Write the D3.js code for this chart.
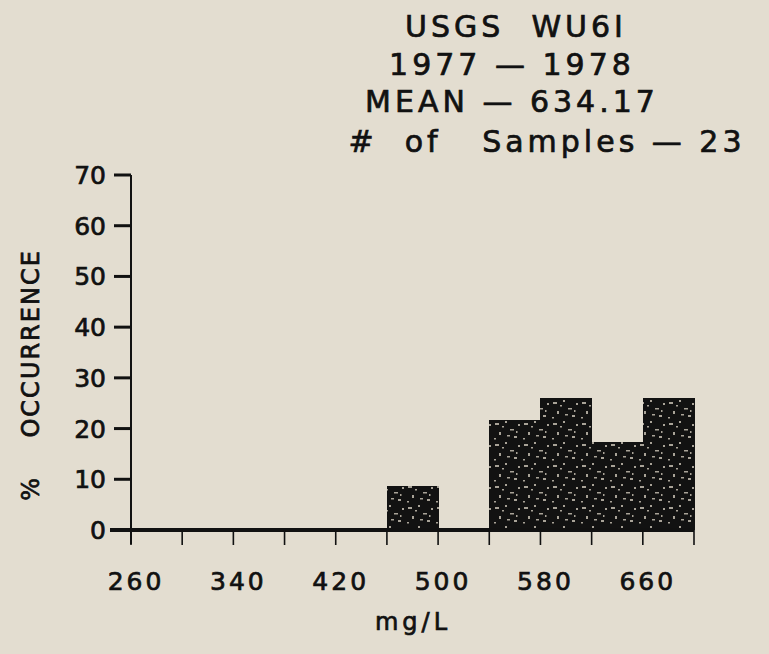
<!DOCTYPE html>
<html>
<head>
<meta charset="utf-8">
<script src="https://cdn.jsdelivr.net/npm/d3@7"></script>
<style>
  body { margin: 0; background: #e3ddd0; }
  svg { display: block; }
  text { font-family: "DejaVu Sans", sans-serif; fill: #111; stroke: #111; stroke-width: 0.7px; }
</style>
</head>
<body>
<svg id="chart" width="769" height="654"></svg>
<script>
// histogram of the sampled values (bins of 40 mg/L)
const binStarts = [260, 300, 340, 380, 420, 460, 500, 540, 580, 620, 660];
const binCounts = [0, 0, 0, 0, 0, 2, 0, 5, 6, 4, 6];
const nSamples = 23;
const xTickValues = [260, 300, 340, 380, 420, 460, 500, 540, 580, 620, 660, 700];
const xTickLabels = [260, 340, 420, 500, 580, 660];
const yTickValues = [0, 10, 20, 30, 40, 50, 60, 70];
const titleLines = ["USGS  WU6I", "1977 \u2014 1978", "MEAN \u2014 634.17", "#  of   Samples \u2014 23"];

const binWidth = 40;
const svg = d3.select("#chart");

const x = d3.scaleLinear().domain([260, 700]).range([131, 694]);
const y = d3.scaleLinear().domain([0, 70]).range([530, 175]);

// speckle texture for the bars (fixed layout, just a look)
const defs = svg.append("defs");
const pat = defs.append("pattern")
  .attr("id", "speck")
  .attr("patternUnits", "userSpaceOnUse")
  .attr("width", 29).attr("height", 21);
pat.append("rect").attr("width", 29).attr("height", 21).attr("fill", "#121212");
[[2, 3, 4, 2], [12, 1, 2, 2], [17, 9, 4, 1.5], [6, 12, 2, 3], [21, 16, 3, 2], [9, 6, 2, 1.5],
 [25, 4, 2, 2], [14, 15, 3, 1.5], [1, 18, 2, 1.5], [23, 11, 1.5, 2]]
  .forEach(d => pat.append("rect")
    .attr("x", d[0]).attr("y", d[1]).attr("width", d[2]).attr("height", d[3])
    .attr("fill", "#a9a398"));

// bars
const bins = binStarts.map((s, i) => ({ start: s, pct: binCounts[i] / nSamples * 100 }));
svg.append("g").selectAll("rect")
  .data(bins.filter(d => d.pct > 0))
  .enter()
  .append("rect")
  .attr("x", d => x(d.start))
  .attr("y", d => y(d.pct))
  .attr("width", d => x(d.start + binWidth) - x(d.start) + 0.5)
  .attr("height", d => y(0) - y(d.pct))
  .attr("shape-rendering", "crispEdges")
  .attr("fill", "url(#speck)");

// y axis
const yAxis = svg.append("g").attr("transform", `translate(${x(260)},0)`);
yAxis.append("line")
  .attr("x1", 0).attr("x2", 0)
  .attr("y1", y(70)).attr("y2", y(0) + 14)
  .attr("stroke", "#111").attr("stroke-width", 2);
yAxis.selectAll(".ytick")
  .data(yTickValues.filter(v => v > 0))
  .enter()
  .append("line")
  .attr("x1", -17).attr("x2", 0)
  .attr("y1", d => y(d)).attr("y2", d => y(d))
  .attr("stroke", "#111").attr("stroke-width", 3);
yAxis.selectAll(".ylab")
  .data(yTickValues)
  .enter()
  .append("text")
  .attr("x", -25)
  .attr("y", d => y(d))
  .attr("dy", "0.36em")
  .attr("text-anchor", "end")
  .style("font-size", "25px")
  .text(d => d);

// baseline (zero line)
svg.append("line")
  .attr("x1", x(260) - 21).attr("x2", x(700))
  .attr("y1", y(0)).attr("y2", y(0))
  .attr("stroke", "#111").attr("stroke-width", 4);

// x ticks
svg.append("g").selectAll("line")
  .data(xTickValues)
  .enter()
  .append("line")
  .attr("x1", d => x(d)).attr("x2", d => x(d))
  .attr("y1", y(0)).attr("y2", y(0) + 15)
  .attr("stroke", "#111").attr("stroke-width", 1.6);
svg.append("g").selectAll("text")
  .data(xTickLabels)
  .enter()
  .append("text")
  .attr("x", d => x(d) + 5)
  .attr("y", 590)
  .attr("text-anchor", "middle")
  .style("font-size", "25px")
  .style("letter-spacing", "3px")
  .text(d => d);

// axis titles
svg.append("text")
  .attr("x", 413).attr("y", 630)
  .attr("text-anchor", "middle")
  .style("font-size", "24px")
  .style("letter-spacing", "4px")
  .text("mg/L");
svg.append("text")
  .attr("transform", "translate(39,375) rotate(-90)")
  .attr("text-anchor", "middle")
  .style("font-size", "24px")
  .style("letter-spacing", "2px")
  .attr("xml:space", "preserve")
  .text("%    OCCURRENCE");

// title block
const titleX = [516, 512, 512, 547];
const titleY = [37, 75, 112, 152];
svg.append("g").selectAll("text")
  .data(titleLines)
  .enter()
  .append("text")
  .attr("x", (d, i) => titleX[i])
  .attr("y", (d, i) => titleY[i])
  .attr("text-anchor", "middle")
  .attr("xml:space", "preserve")
  .style("font-size", "30px")
  .style("letter-spacing", "4px")
  .text(d => d);
</script>
</body>
</html>
